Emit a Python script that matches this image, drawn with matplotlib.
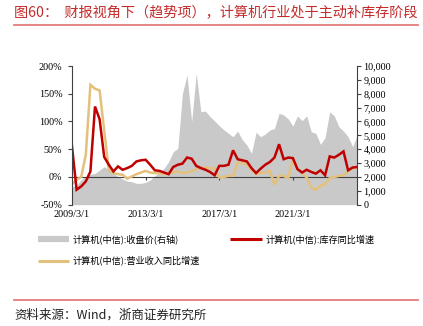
import matplotlib
matplotlib.use("Agg")
import matplotlib.pyplot as plt
from matplotlib.lines import Line2D

plt.rcParams['font.family'] = ['Noto Sans CJK SC', 'DejaVu Sans']

# Quarterly series, 2009Q1 .. 2024Q3
quarters = [f"{y}/{m}/1" for y in range(2009, 2025) for m in (3, 6, 9, 12)][:63]

# 计算机(中信) 库存同比增速 (%)
inventory_yoy = [55, -23, -17, -8, 10, 127, 104, 36, 22, 10,
                 19, 13, 16, 20, 28, 30, 31, 22, 12, 11,
                 8, 5, 18, 22, 24, 35, 33, 20, 16, 13,
                 9, 3, 20, 20, 22, 48, 32, 30, 28, 16,
                 7, 15, 22, 27, 35, 59, 32, 35, 34, 14,
                 8, 13, 9, 6, 12, 3, 37, 35, 40, 46,
                 12, 17, 18]

# 计算机(中信) 营业收入同比增速 (%)
revenue_yoy = [-13, -5, 0, 40, 166, 159, 156, 84, 12, 7,
               5, 4, -3, 1, 5, 8, 11, 8, 7, 7,
               5, 7, 8, 10, 7, 8, 10, 14, 16, 17,
               16, 15, -1, 0, 2, 2, 26, 25, 22, 13,
               5, 7, 8, 11, -14, 2, 2, -2, 32, 16,
               7, -1, -20, -23, -16, -13, -2, 0, 2, 3,
               10, 16, 17]

# 计算机(中信) 收盘价 (右轴)
close_price = [1300, 1420, 1800, 2050, 2190, 2260, 2500, 2740, 2500, 2260,
               2020, 1850, 1700, 1660, 1540, 1540, 1610, 1780, 2090, 2330,
               2620, 3100, 3820, 4060, 8030, 9350, 5990, 9470, 6710, 6750,
               6350, 6030, 5700, 5400, 5150, 4900, 5300, 4700, 4300, 3700,
               5220, 4900, 5100, 5380, 5500, 6590, 6470, 6180, 5670, 6400,
               6060, 6400, 5260, 5140, 4350, 4830, 6700, 6400, 5620, 5310,
               4900, 4180, 5070]

tick_labels = ["2009/3/1", "2013/3/1", "2017/3/1", "2021/3/1"]
tick_pos = [quarters.index(t) for t in tick_labels]

label_close = "计算机(中信):收盘价(右轴)"
label_inv = "计算机(中信):库存同比增速"
label_rev = "计算机(中信):营业收入同比增速"

RED = "#C00000"
TAN = "#E3C17C"
GRAY = "#C9C9C9"
AXC = "#404040"
num_font = "Liberation Serif"

W, H = 423, 326
fig = plt.figure(figsize=(W / 100, H / 100), dpi=100)
ax = fig.add_axes([72 / W, 1 - 204.7 / H, (357.3 - 72) / W, (204.7 - 66) / H])
ax2 = ax.twinx()

x = list(range(len(quarters)))

# price area on the right axis, behind the growth lines
ax2.fill_between(x, 0, close_price, color=GRAY, linewidth=0)
ax2.set_ylim(0, 10000)
ax2.set_yticks(range(0, 10001, 1000))
ax2.set_yticklabels([f"{v:,}" for v in range(0, 10001, 1000)],
                    fontfamily=num_font, fontsize=7.3)
ax2.tick_params(axis='y', length=3, width=0.8, color=AXC, pad=1.5)

ax.set_zorder(ax2.get_zorder() + 1)
ax.patch.set_visible(False)

ax.plot(x, revenue_yoy, color=TAN, lw=1.8, solid_joinstyle='miter')
ax.plot(x, inventory_yoy, color=RED, lw=1.8, solid_joinstyle='miter')

ax.set_xlim(0, len(quarters) - 1)
ax.set_ylim(-50, 200)
ax.set_yticks(range(-50, 201, 50))
ax.set_yticklabels([f"{v}%" for v in range(-50, 201, 50)],
                   fontfamily=num_font, fontsize=7.3)
ax.tick_params(axis='y', length=3, width=0.8, color=AXC, pad=4)

ax.set_xticks(tick_pos)
ax.set_xticklabels(tick_labels, fontfamily=num_font, fontsize=7.3)
ax.tick_params(axis='x', length=0, pad=3.5)

for a in (ax, ax2):
    a.spines['top'].set_visible(False)
    a.spines['bottom'].set_visible(False)
    a.spines['left'].set_color(AXC)
    a.spines['right'].set_color(AXC)
    a.spines['left'].set_linewidth(0.8)
    a.spines['right'].set_linewidth(0.8)
ax2.spines['left'].set_visible(False)
ax.spines['right'].set_visible(False)

# zero line with small date ticks
zero_frac = (0 - (-50)) / (200 - (-50))
zx = ax.secondary_xaxis(zero_frac)
zx.set_xticks(tick_pos[1:])
zx.tick_params(axis='x', length=2, width=0.8, color=AXC, labelbottom=False)
zx.spines['bottom'].set_color(AXC)
zx.spines['bottom'].set_linewidth(0.8)

handles = [
    Line2D([], [], color=GRAY, lw=4.5, solid_capstyle='butt'),
    Line2D([], [], color=TAN, lw=2.2, solid_capstyle='butt'),
    Line2D([], [], color=RED, lw=2.2, solid_capstyle='butt'),
]
fig.legend(handles, [label_close, label_rev, label_inv], ncol=2,
           loc='upper left', bbox_to_anchor=(38 / W, 1 - 234 / H),
           frameon=False, fontsize=6.6, handlelength=3.4, handletextpad=0.4,
           columnspacing=3.3, labelspacing=1.3, borderaxespad=0, borderpad=0)

# header and footer
fig.text(14 / W, 1 - 12.5 / H, "图60：  财报视角下（趋势项），计算机行业处于主动补库存阶段",
         color="#C42B2B", fontsize=10.2, va='center', ha='left')
fig.add_artist(Line2D([14 / W, 418 / W], [1 - 25 / H] * 2, color="#E57C7C", lw=1.3))
fig.add_artist(Line2D([14 / W, 418 / W], [1 - 300 / H] * 2, color="#E57C7C", lw=1.3))
fig.text(14 / W, 1 - 315 / H, "资料来源：Wind，浙商证券研究所", color="#222222",
         fontsize=9, va='center', ha='left')

fig.savefig("out.png", dpi=100)
